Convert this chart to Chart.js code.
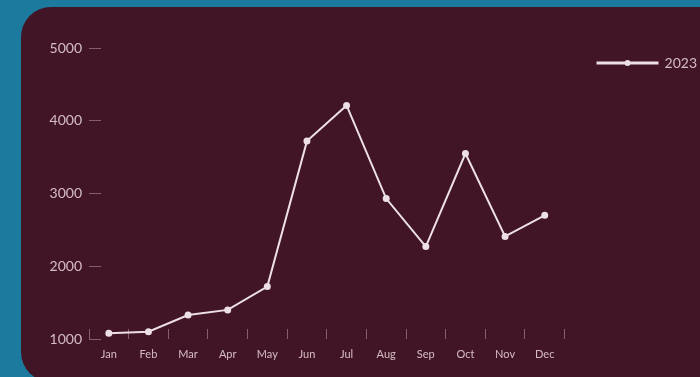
<!DOCTYPE html>
<html>
<head>
<meta charset="utf-8">
<script src="https://cdn.jsdelivr.net/npm/chart.js@4.4.0/dist/chart.umd.min.js"></script>
<style>
	html, body { margin: 0; padding: 0; width: 700px; height: 377px; overflow: hidden; background: #1b7a9e; }
	#card { position: absolute; left: 21px; top: 7px; width: 760px; height: 375px; border-radius: 30px; background: #411525; }
	#chart-container { position: absolute; left: 0; top: 0; width: 720px; height: 377px; }
</style>
</head>
<body>
<div id="card"></div>
<div id="chart-container"><canvas id="sales-chart"></canvas></div>
<script>
const months = ["Jan", "Feb", "Mar", "Apr", "May", "Jun", "Jul", "Aug", "Sep", "Oct", "Nov", "Dec"];
const seriesName = "2023";
const values2023 = [1080, 1100, 1330, 1400, 1720, 3720, 4210, 2930, 2270, 3550, 2410, 2700];
const yTicks = [1000, 2000, 3000, 4000, 5000];

const lineColor = "#ecdfe5";
const labelColor = "rgba(236, 214, 222, 0.85)";
const tickColor = "rgba(214, 186, 198, 0.45)";

// small dot in the middle of the legend line
const legendDot =
{
	id: "legendDot",
	afterDraw(chart)
	{
		const legend = chart.legend;
		if(!legend || !legend.legendHitBoxes)
			return;
		const ctx = chart.ctx;
		const boxWidth = legend.options.labels.boxWidth;
		for(let box of legend.legendHitBoxes)
		{
			ctx.save();
			ctx.fillStyle = lineColor;
			ctx.beginPath();
			ctx.arc(box.left + boxWidth / 2, box.top + box.height / 2, 3, 0, Math.PI * 2);
			ctx.fill();
			ctx.restore();
		}
	}
};

new Chart(document.getElementById("sales-chart").getContext("2d"),
{
	type: "line",
	plugins: [legendDot],
	data:
	{
		labels: months,
		datasets:
		[{
			label: seriesName,
			data: values2023,
			borderColor: lineColor,
			backgroundColor: lineColor,
			borderWidth: 2,
			pointRadius: 2.5,
			pointHoverRadius: 2.5,
			pointBackgroundColor: lineColor,
			pointBorderColor: lineColor,
			tension: 0
		}]
	},
	options:
	{
		responsive: true,
		maintainAspectRatio: false,
		animation: false,
		layout: { padding: { top: 48, right: 13, bottom: 0, left: 0 } },
		plugins:
		{
			tooltip: { enabled: false },
			legend:
			{
				position: "right",
				align: "start",
				labels:
				{
					boxWidth: 60,
					boxHeight: 1,
					padding: 8,
					color: labelColor,
					font: { family: "Lato, sans-serif", size: 14 }
				}
			}
		},
		scales:
		{
			x:
			{
				offset: true,
				border: { display: false },
				grid: { offset: true, drawOnChartArea: false, tickLength: -10, color: tickColor, lineWidth: 1 },
				ticks:
				{
					color: labelColor,
					padding: 19,
					font: { family: "Lato, sans-serif", size: 11 }
				},
				afterFit: (scale) => { scale.height = 38; }
			},
			y:
			{
				min: 1000,
				max: 5000,
				border: { display: false },
				grid: { drawOnChartArea: false, tickLength: -12, color: tickColor, lineWidth: 1 },
				afterBuildTicks: (scale) => { scale.ticks = yTicks.map(v => ({ value: v })); },
				ticks:
				{
					color: labelColor,
					padding: 19,
					font: { family: "Lato, sans-serif", size: 14 },
					callback: (value) => String(value)
				},
				afterFit: (scale) => { scale.width = 89; }
			},
			gap:
			{
				type: "linear",
				position: "right",
				display: true,
				border: { display: false },
				grid: { display: false },
				ticks: { display: false },
				afterFit: (scale) => { scale.width = 25; }
			}
		}
	}
});
</script>
</body>
</html>
